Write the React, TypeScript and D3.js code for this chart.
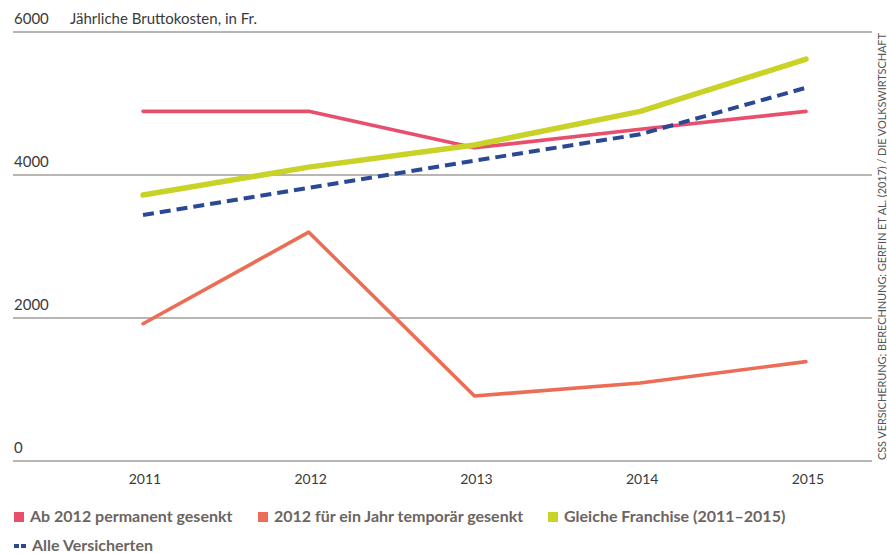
import { useRef, useEffect } from 'react';
import * as d3 from 'd3';

const years = ['2011', '2012', '2013', '2014', '2015'];
const permanent = [4890, 4890, 4380, 4640, 4890];
const temporary = [1920, 3200, 910, 1090, 1390];
const sameFranchise = [3720, 4110, 4420, 4890, 5620];
const allInsured = [3440, 3820, 4200, 4570, 5220];
const yTicks = [0, 2000, 4000, 6000];

const series = [
  { name: '2012 für ein Jahr temporär gesenkt', values: temporary, color: '#ec6d55', width: 3.6, dash: null },
  { name: 'Ab 2012 permanent gesenkt', values: permanent, color: '#e84f6d', width: 3.6, dash: null },
  { name: 'Alle Versicherten', values: allInsured, color: '#2a4894', width: 4, dash: '11,6' },
  { name: 'Gleiche Franchise (2011–2015)', values: sameFranchise, color: '#c9d226', width: 5.5, dash: null },
];

const FONT = 'Lato, "Open Sans", sans-serif';

export default function App() {
  const svgRef = useRef<SVGSVGElement>(null);

  useEffect(() => {
    document.body.style.margin = '0';
    const svg = d3.select(svgRef.current);
    svg.selectAll('*').remove();

    const W = 887;
    const x = d3.scalePoint<string>().domain(years).range([143, 806]).padding(0);
    const y = d3.scaleLinear().domain([0, 6000]).range([461, 32]);

    // grid
    svg.append('g')
      .selectAll('line')
      .data(yTicks)
      .join('line')
      .attr('x1', 13).attr('x2', 872)
      .attr('y1', d => y(d)).attr('y2', d => y(d))
      .attr('stroke', '#a29d99')
      .attr('stroke-width', 1.3);

    svg.append('g')
      .selectAll('text')
      .data(yTicks)
      .join('text')
      .attr('x', 14)
      .attr('y', d => y(d) - 8)
      .attr('font-family', FONT)
      .attr('font-size', 15)
      .attr('fill', '#3a3a3a')
      .text(d => String(d));

    svg.append('text')
      .attr('x', 70).attr('y', y(6000) - 8)
      .attr('font-family', FONT)
      .attr('font-size', 15)
      .attr('fill', '#3a3a3a')
      .text('Jährliche Bruttokosten, in Fr.');

    // x labels
    svg.append('g')
      .selectAll('text')
      .data(years)
      .join('text')
      .attr('x', d => x(d)! + 2)
      .attr('y', 484)
      .attr('text-anchor', 'middle')
      .attr('font-family', FONT)
      .attr('font-size', 14)
      .attr('fill', '#3a3a3a')
      .text(d => d);

    // lines
    const line = d3.line<number>()
      .x((_, i) => x(years[i])!)
      .y(v => y(v));

    series.forEach(s => {
      svg.append('path')
        .datum(s.values)
        .attr('d', line)
        .attr('fill', 'none')
        .attr('stroke', s.color)
        .attr('stroke-width', s.width)
        .attr('stroke-linecap', s.dash ? 'butt' : 'round')
        .attr('stroke-linejoin', 'round')
        .attr('stroke-dasharray', s.dash);
    });

    // source
    svg.append('text')
      .attr('transform', `translate(${W - 1},460) rotate(-90)`)
      .attr('font-family', FONT)
      .attr('font-size', 11)
      .attr('fill', '#555')
      .attr('textLength', 427)
      .attr('lengthAdjust', 'spacing')
      .text('CSS VERSICHERUNG; BERECHNUNG: GERFIN ET AL. (2017) / DIE VOLKSWIRTSCHAFT');

    // legend
    const legend = [
      { s: series[1], x: 14, y: 522 },
      { s: series[0], x: 258, y: 522 },
      { s: series[3], x: 548, y: 522 },
      { s: series[2], x: 14, y: 551 },
    ];
    const lg = svg.append('g');
    legend.forEach(({ s, x: lx, y: ly }) => {
      if (s.dash) {
        lg.append('line')
          .attr('x1', lx).attr('x2', lx + 12)
          .attr('y1', ly - 5).attr('y2', ly - 5)
          .attr('stroke', s.color)
          .attr('stroke-width', 4)
          .attr('stroke-dasharray', '5,2');
      } else {
        lg.append('rect')
          .attr('x', lx).attr('y', ly - 10)
          .attr('width', 10).attr('height', 10)
          .attr('fill', s.color);
      }
      lg.append('text')
        .attr('x', lx + (s.dash ? 18 : 16))
        .attr('y', ly)
        .attr('font-family', FONT)
        .attr('font-weight', 700)
        .attr('font-size', 16)
        .attr('fill', '#6b6562')
        .text(s.name);
    });
  }, []);

  return <svg ref={svgRef} width={887} height={553} style={{ display: 'block' }} />;
}
